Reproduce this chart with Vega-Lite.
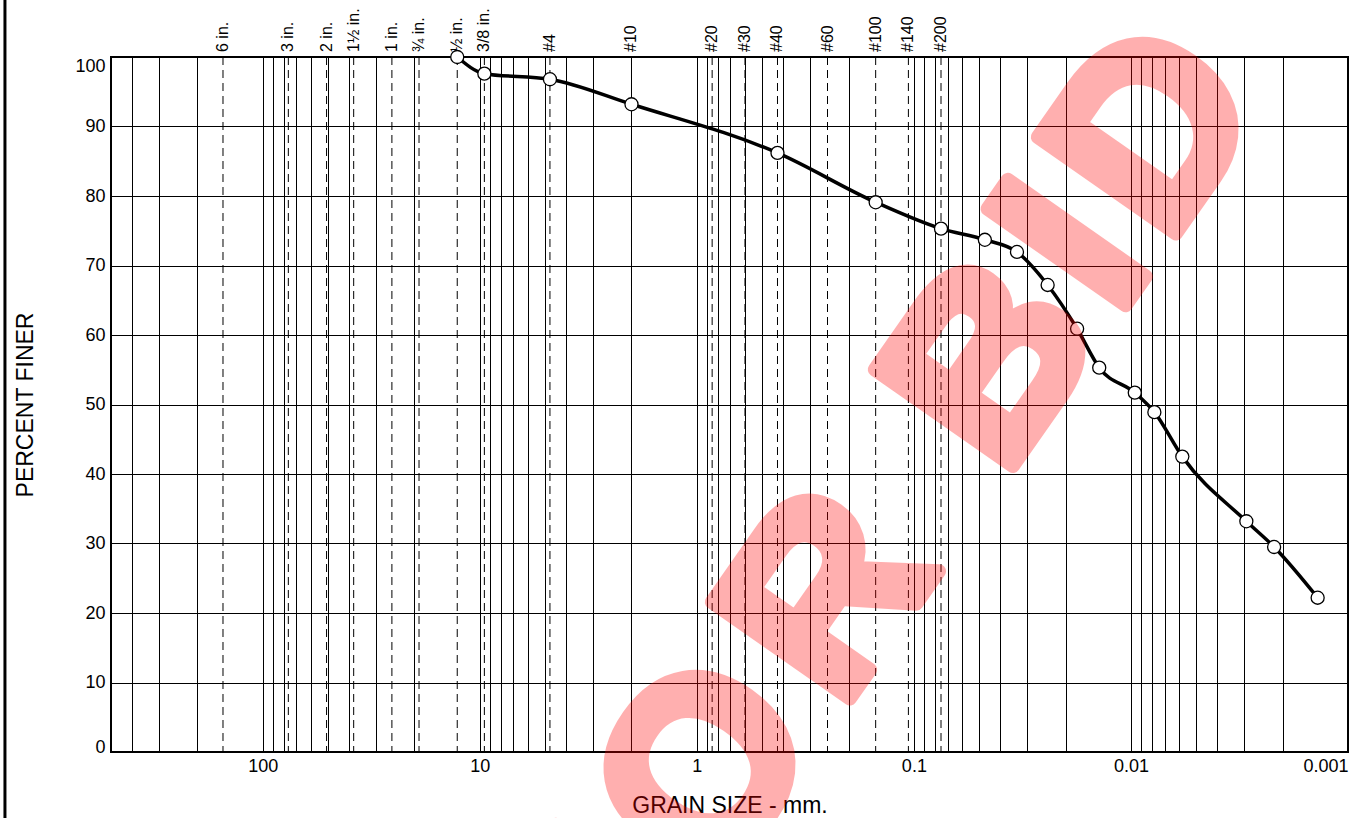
{
  "$schema": "https://vega.github.io/schema/vega-lite/v6.json",
  "width": 1237,
  "height": 695,
  "autosize": {"type": "none"},
  "padding": {"left": 111, "top": 57, "right": 1, "bottom": 66},
  "background": "white",
  "config": {
    "view": {"stroke": "black", "strokeWidth": 2},
    "font": "Liberation Sans"
  },
  "datasets": {
    "sieves": [
      {"size": 152.4, "label": "6 in."},
      {"size": 76.2, "label": "3 in."},
      {"size": 50.8, "label": "2 in."},
      {"size": 38.1, "label": "1½ in."},
      {"size": 25.4, "label": "1 in."},
      {"size": 19.05, "label": "¾ in."},
      {"size": 12.7, "label": "½ in."},
      {"size": 9.525, "label": "3/8 in."},
      {"size": 4.75, "label": "#4"},
      {"size": 2.0, "label": "#10"},
      {"size": 0.85, "label": "#20"},
      {"size": 0.6, "label": "#30"},
      {"size": 0.425, "label": "#40"},
      {"size": 0.25, "label": "#60"},
      {"size": 0.15, "label": "#100"},
      {"size": 0.106, "label": "#140"},
      {"size": 0.075, "label": "#200"}
    ],
    "gradation": [
      {"grain": 12.7, "finer": 100},
      {"grain": 9.525, "finer": 97.6},
      {"grain": 4.75, "finer": 96.8},
      {"grain": 2.0, "finer": 93.2},
      {"grain": 0.425, "finer": 86.2},
      {"grain": 0.15, "finer": 79.1},
      {"grain": 0.075, "finer": 75.3},
      {"grain": 0.0471, "finer": 73.7},
      {"grain": 0.0335, "finer": 71.95},
      {"grain": 0.0242, "finer": 67.2},
      {"grain": 0.0177, "finer": 60.9},
      {"grain": 0.014, "finer": 55.3},
      {"grain": 0.0096, "finer": 51.7},
      {"grain": 0.0078, "finer": 48.9},
      {"grain": 0.0058, "finer": 42.5},
      {"grain": 0.00294, "finer": 33.2},
      {"grain": 0.00219, "finer": 29.5},
      {"grain": 0.00138, "finer": 22.2}
    ],
    "watermark": [
      {"grain": 1.545, "finer": -32.15, "ch": "F"},
      {"grain": 0.4649, "finer": -8.92, "ch": "O"},
      {"grain": 0.1271, "finer": 16.17, "ch": "R"},
      {"grain": 0.02256, "finer": 49.63, "ch": "B"},
      {"grain": 0.009504, "finer": 66.36, "ch": "I"},
      {"grain": 0.004004, "finer": 83.08, "ch": "D"}
    ],
    "frame": [{"grain": 1540, "top": 110, "bottom": -10}]
  },
  "layer": [
    {
      "data": {"name": "sieves"},
      "mark": {"type": "rule", "color": "black", "strokeWidth": 1, "strokeDash": [8, 5]},
      "encoding": {
        "x": {
          "field": "size",
          "type": "quantitative",
          "scale": {"type": "log", "domain": [0.001, 500], "reverse": true, "nice": false},
          "axis": {
            "values": [0.001, 0.002, 0.003, 0.004, 0.005, 0.006, 0.007, 0.008, 0.009,
                       0.01, 0.02, 0.03, 0.04, 0.05, 0.06, 0.07, 0.08, 0.09,
                       0.1, 0.2, 0.3, 0.4, 0.5, 0.6, 0.7, 0.8, 0.9,
                       1, 2, 3, 4, 5, 6, 7, 8, 9,
                       10, 20, 30, 40, 50, 60, 70, 80, 90,
                       100, 200, 300, 400],
            "format": "~g",
            "labelExpr": "abs(log(datum.value)/LN10 - round(log(datum.value)/LN10)) < 0.001 ? datum.label : ''",
            "labelOverlap": false,
            "labelFlush": true,
            "labelFontSize": 18,
            "labelColor": "black",
            "labelPadding": 5,
            "grid": true,
            "gridColor": "black",
            "gridOpacity": 1,
            "gridWidth": 1,
            "domain": false,
            "ticks": false,
            "title": "GRAIN SIZE - mm.",
            "titleFontSize": 23,
            "titleFontWeight": "normal",
            "titleColor": "black",
            "titleBaseline": "alphabetic",
            "titleY": 60
          }
        }
      }
    },
    {
      "data": {"name": "sieves"},
      "mark": {"type": "text", "angle": 270, "align": "left", "baseline": "middle", "dx": 5, "fontSize": 16, "color": "black"},
      "encoding": {
        "x": {"field": "size", "type": "quantitative"},
        "y": {"datum": 100, "type": "quantitative"},
        "text": {"field": "label"}
      }
    },
    {
      "data": {"name": "gradation"},
      "mark": {"type": "line", "color": "black", "strokeWidth": 3.5, "interpolate": "monotone"},
      "encoding": {
        "x": {"field": "grain", "type": "quantitative", "scale": {"type": "log", "domain": [0.001, 500], "reverse": true, "nice": false}},
        "y": {
          "field": "finer",
          "type": "quantitative",
          "scale": {"domain": [0, 100], "nice": false},
          "axis": {
            "values": [0, 10, 20, 30, 40, 50, 60, 70, 80, 90, 100],
            "labelFontSize": 18,
            "labelColor": "black",
            "labelPadding": 6,
            "labelBaseline": {"expr": "datum.value == 0 ? 'alphabetic' : datum.value == 100 ? 'top' : 'middle'"},
            "grid": true,
            "gridColor": "black",
            "gridOpacity": 1,
            "gridWidth": 1,
            "domain": false,
            "ticks": false,
            "title": "PERCENT FINER",
            "titleFontSize": 23,
            "titleFontWeight": "normal",
            "titleColor": "black",
            "titleBaseline": "alphabetic",
            "titleAngle": -90,
            "titleX": -79,
            "titleY": 347.5,
            "titleAlign": "center"
          }
        }
      }
    },
    {
      "data": {"name": "gradation"},
      "mark": {"type": "point", "shape": "circle", "filled": true, "fill": "white", "stroke": "black", "strokeWidth": 1.3, "size": 170, "opacity": 1},
      "encoding": {
        "x": {"field": "grain", "type": "quantitative"},
        "y": {"field": "finer", "type": "quantitative"}
      }
    },
    {
      "data": {"name": "watermark"},
      "mark": {"type": "text", "angle": -55, "align": "center", "baseline": "alphabetic", "fontSize": 245, "fontWeight": "bold", "fill": "red", "stroke": "red", "strokeWidth": 14, "strokeJoin": "round", "opacity": 0.31},
      "encoding": {
        "x": {"field": "grain", "type": "quantitative"},
        "y": {"field": "finer", "type": "quantitative"},
        "text": {"field": "ch"}
      }
    },
    {
      "data": {"name": "frame"},
      "mark": {"type": "rule", "color": "black", "strokeWidth": 3},
      "encoding": {
        "x": {"field": "grain", "type": "quantitative"},
        "y": {"field": "top", "type": "quantitative"},
        "y2": {"field": "bottom"}
      }
    }
  ]
}
